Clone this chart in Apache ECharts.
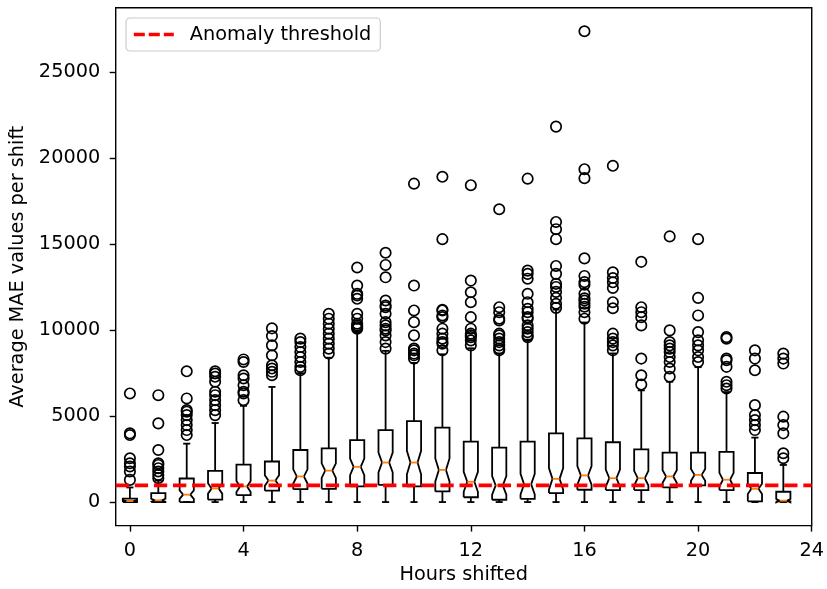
<!DOCTYPE html>
<html>
<head>
<meta charset="utf-8">
<script src="https://cdn.jsdelivr.net/npm/echarts@6/dist/echarts.min.js"></script>
<style>
html,body{margin:0;padding:0;background:#fff;}
#chart{width:827px;height:589px;}
</style>
</head>
<body>
<div id="chart"></div>
<script>
// ---- data ----
var hours = [0,1,2,3,4,5,6,7,8,9,10,11,12,13,14,15,16,17,18,19,20,21,22,23];
var whiskerLow  = [0,0,0,0,0,0,0,0,0,0,0,0,0,0,0,0,0,0,0,0,0,0,0,0];
var q1          = [0,0,0,140,400,660,750,770,910,1000,910,620,280,135,190,520,715,700,700,850,970,700,40,40];
var median      = [60,100,430,790,910,1250,1490,1830,2050,2300,2300,1870,1180,970,1040,1350,1550,1390,1390,1490,1580,1300,770,80];
var q3          = [200,520,1370,1810,2180,2360,3030,3130,3610,4190,4710,4330,3520,3170,3520,4000,3710,3480,3070,2880,2880,2920,1690,600];
var whiskerHigh = [850,1250,3400,4600,5600,6700,7500,8400,9900,8800,8100,8600,8950,8650,9450,11200,10450,8650,6500,7000,7850,6400,3750,2160];
var outliers = [
  [1290,1780,2070,2260,2550,3900,4000,6320],
  [1390,1580,1780,1970,2160,2260,3030,4580,6220],
  [3900,4190,4480,4770,5060,5260,5350,6030,7610],
  [5060,5350,5640,5930,6220,6420,7000,7290,7480,7610],
  [5930,6320,6420,6800,7190,7380,8150,8300],
  [7380,7580,7770,7960,8540,9120,9660,10110],
  [7670,7870,8150,8440,8730,9020,9310,9510],
  [8640,8930,9220,9510,9800,10090,10380,10670,10960],
  [10090,10180,10280,10380,10670,10960,11830,12020,12120,12600,13650],
  [8930,9310,9700,9990,10090,10280,10470,10960,11340,11440,11730,13080,13800,14510],
  [8350,8540,8640,8830,8930,9700,10470,11150,12600,18530],
  [8830,9220,9310,9510,9800,10090,10760,10860,11150,11190,15300,18930],
  [9120,9410,9600,9700,9800,10090,10760,11630,12210,12890,18440],
  [8830,8930,9120,9310,9510,9700,9800,10570,10670,11050,11340,17040],
  [9600,9700,9890,10090,10280,10670,10760,11050,11250,11630,12120,13000,13280,13470,18820],
  [11300,11540,11880,12230,12520,12700,13280,13740,15300,15880,16300,21850],
  [10670,11050,11370,11540,11730,11860,12120,12650,12800,13160,14180,18850,19370,27400],
  [8830,9120,9310,9510,9800,11280,11630,12460,12790,13040,13370,19570],
  [6840,7380,8350,10280,10760,11050,11340,13980],
  [7290,7770,8150,8440,8730,8930,9120,9310,9990,15460],
  [8150,8440,8830,9120,9410,9890,10860,11880,15300],
  [6610,6800,7000,7870,8250,8350,9510,9600],
  [4190,4480,4770,5060,5640,7670,8350,8830],
  [2550,2840,4000,4480,4970,8060,8350,8640]
];
var threshold = 970;
var thresholdName = 'Anomaly threshold';
var xTicks = [0,4,8,12,16,20,24];
var yTicks = [0,5000,10000,15000,20000,25000];
var xLabel = 'Hours shifted';
var yLabel = 'Average MAE values per shift';
var samplesPerShift = 76; // used for notch half-height (matplotlib: 1.57*IQR/sqrt(N))

// ---- build series data ----
var boxData = hours.map(function (h, i) {
  var iqr = q3[i] - q1[i];
  var half = 1.57 * iqr / Math.sqrt(samplesPerShift);
  return [h, whiskerLow[i], q1[i], median[i], q3[i], whiskerHigh[i], median[i] - half, median[i] + half];
});
var flierData = [];
hours.forEach(function (h, i) {
  outliers[i].forEach(function (v) { flierData.push([h, v]); });
});

var FONT = 'DejaVu Sans';
var FS = 19.3;
var LW = 1.8;
var DASH = [13.3, 5.8];

function renderBox(params, api) {
  var x = api.value(0);
  var w = api.size([1, 0])[0] * 0.5;
  var hw = w / 2, qw = w / 4;
  var pW = api.coord([x, api.value(1)]);
  var pQ1 = api.coord([x, api.value(2)]);
  var pM = api.coord([x, api.value(3)]);
  var pQ3 = api.coord([x, api.value(4)]);
  var pWH = api.coord([x, api.value(5)]);
  var pNL = api.coord([x, api.value(6)]);
  var pNH = api.coord([x, api.value(7)]);
  var cx = pQ1[0];
  var bl = cx - hw, br = cx + hw, cl = cx - qw, cr = cx + qw;
  var pts = [
    [bl, pQ1[1]], [br, pQ1[1]], [br, pNL[1]], [cr, pM[1]], [br, pNH[1]], [br, pQ3[1]],
    [bl, pQ3[1]], [bl, pNH[1]], [cl, pM[1]], [bl, pNL[1]], [bl, pQ1[1]]
  ];
  var stroke = {stroke: '#000', lineWidth: LW, fill: null};
  return {
    type: 'group',
    children: [
      {type: 'line', shape: {x1: cx, y1: pQ1[1], x2: cx, y2: pW[1]}, style: stroke},
      {type: 'line', shape: {x1: cx, y1: pQ3[1], x2: cx, y2: pWH[1]}, style: stroke},
      {type: 'line', shape: {x1: cl, y1: pW[1], x2: cr, y2: pW[1]}, style: stroke},
      {type: 'line', shape: {x1: cl, y1: pWH[1], x2: cr, y2: pWH[1]}, style: stroke},
      {type: 'polyline', shape: {points: pts}, style: {stroke: '#000', lineWidth: LW, fill: null, lineJoin: 'miter'}},
      {type: 'line', shape: {x1: cl, y1: pM[1], x2: cr, y2: pM[1]}, style: {stroke: '#ff7f0e', lineWidth: LW}}
    ]
  };
}

var chart = echarts.init(document.getElementById('chart'), null, {renderer: 'canvas'});
chart.setOption({
  animation: false,
  backgroundColor: '#ffffff',
  textStyle: {fontFamily: FONT},
  grid: {left: 115.7, right: 13, top: 7.7, bottom: 61.4, show: true, borderColor: '#000', borderWidth: 1.4, backgroundColor: 'transparent'},
  legend: {
    left: 126, top: 18,
    orient: 'horizontal',
    itemWidth: 40, itemHeight: 16,
    padding: [7, 9, 7, 6],
    borderColor: '#cccccc', borderWidth: 1.2, borderRadius: 4,
    backgroundColor: 'rgba(255,255,255,0.8)',
    itemStyle: {color: 'rgba(0,0,0,0)', borderWidth: 0, opacity: 0},
    lineStyle: {color: '#ff0000', width: 3.6, type: [11, 4]},
    textStyle: {fontFamily: FONT, fontSize: FS, color: '#000', padding: [0, 0, 0, 11]},
    data: [thresholdName]
  },
  xAxis: {
    type: 'value', min: -0.5, max: 24,
    name: xLabel, nameLocation: 'middle', nameGap: 34,
    nameTextStyle: {fontFamily: FONT, fontSize: FS, color: '#000'},
    axisLine: {show: false, onZero: false},
    splitLine: {show: false},
    axisTick: {show: true, customValues: xTicks, length: 6, lineStyle: {color: '#000', width: 1.4}},
    axisLabel: {customValues: xTicks, margin: 15.5, fontFamily: FONT, fontSize: FS, color: '#000', formatter: function (v) { return String(v); }}
  },
  yAxis: {
    type: 'value', min: -1370, max: 28770,
    name: yLabel, nameLocation: 'middle', nameGap: 81, nameRotate: 90,
    nameTextStyle: {fontFamily: FONT, fontSize: FS, color: '#000'},
    axisLine: {show: false, onZero: false},
    splitLine: {show: false},
    axisTick: {show: true, customValues: yTicks, length: 6, lineStyle: {color: '#000', width: 1.4}},
    axisLabel: {customValues: yTicks, margin: 15.5, fontFamily: FONT, fontSize: FS, color: '#000', formatter: function (v) { return String(v); }}
  },
  series: [
    {
      type: 'custom', name: 'boxes', data: boxData, renderItem: renderBox,
      encode: {x: 0, y: [1, 2, 3, 4, 5]}, z: 2, silent: true
    },
    {
      type: 'scatter', name: 'outliers', data: flierData, symbol: 'circle', symbolSize: 10.4,
      itemStyle: {color: 'rgba(0,0,0,0)', borderColor: '#000', borderWidth: 1.7, opacity: 1},
      z: 3, silent: true
    },
    {
      type: 'line', name: thresholdName, data: [[-0.5, threshold], [24, threshold]],
      symbol: 'none', showSymbol: false,
      lineStyle: {color: '#ff0000', width: 3.6, type: DASH},
      itemStyle: {color: '#ff0000'},
      z: 5, silent: true
    }
  ]
});
</script>
</body>
</html>
